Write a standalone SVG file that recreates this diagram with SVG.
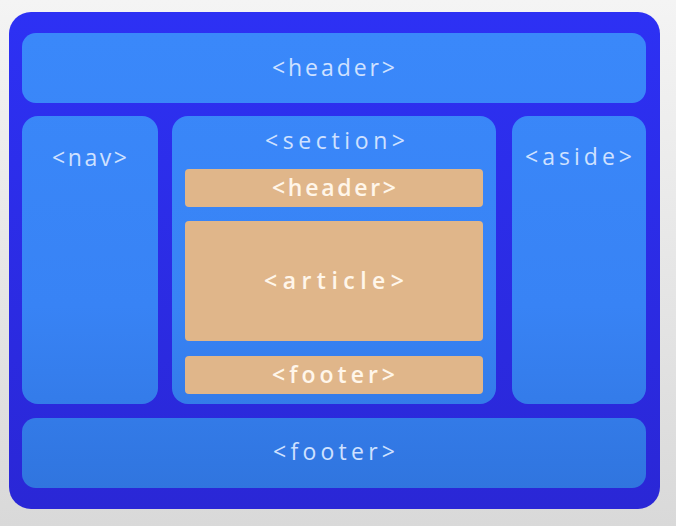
<svg xmlns="http://www.w3.org/2000/svg" width="676" height="526" viewBox="0 0 676 526">
<defs>
<linearGradient id="bg" x1="0" y1="0" x2="0" y2="1"><stop offset="0" stop-color="#f4f4f4"/><stop offset="1" stop-color="#d9d9d9"/></linearGradient>
<linearGradient id="outer" x1="0" y1="0" x2="0" y2="1"><stop offset="0" stop-color="#2d31f4"/><stop offset="1" stop-color="#2a27d6"/></linearGradient>
<linearGradient id="blue" gradientUnits="userSpaceOnUse" x1="0" y1="33" x2="0" y2="488"><stop offset="0" stop-color="#3a88fa"/><stop offset="0.6" stop-color="#3883f5"/><stop offset="1" stop-color="#3075df"/></linearGradient>
</defs>
<style>
.box{fill:url(#blue)}
.tan{fill:#e0b68a}
.lbl{font-family:"Open Sans","DejaVu Sans",sans-serif;font-size:23px;fill:#cfe1ff}
.lbl2{font-family:"Open Sans","DejaVu Sans",sans-serif;font-size:23px;font-weight:600;fill:#fff6ea}
</style>
<rect x="0" y="0" width="676" height="526" fill="url(#bg)"/>
<rect x="9" y="12" width="651" height="497" rx="22" fill="url(#outer)"/>
<g id="header"><rect class="box" x="22" y="33" width="624" height="70" rx="14"/><text class="lbl" x="272" y="76" textLength="123" lengthAdjust="spacing">&lt;header&gt;</text></g>
<g id="nav"><rect class="box" x="22" y="116" width="136" height="288" rx="16"/><text class="lbl" x="52" y="166" textLength="75" lengthAdjust="spacing">&lt;nav&gt;</text></g>
<g id="section"><rect class="box" x="172" y="116" width="324" height="288" rx="16"/><text class="lbl" x="265" y="149" textLength="140" lengthAdjust="spacing">&lt;section&gt;</text></g>
<g id="section-header"><rect class="tan" x="185" y="169" width="298" height="38" rx="4"/><text class="lbl2" x="272" y="196" textLength="124" lengthAdjust="spacing">&lt;header&gt;</text></g>
<g id="article"><rect class="tan" x="185" y="221" width="298" height="120" rx="4"/><text class="lbl2" x="264" y="289" textLength="140" lengthAdjust="spacing">&lt;article&gt;</text></g>
<g id="section-footer"><rect class="tan" x="185" y="356" width="298" height="38" rx="4"/><text class="lbl2" x="272" y="383" textLength="123" lengthAdjust="spacing">&lt;footer&gt;</text></g>
<g id="aside"><rect class="box" x="512" y="116" width="134" height="288" rx="16"/><text class="lbl" x="525" y="165" textLength="107" lengthAdjust="spacing">&lt;aside&gt;</text></g>
<g id="footer"><rect class="box" x="22" y="418" width="624" height="70" rx="14"/><text class="lbl" x="273" y="460" textLength="122" lengthAdjust="spacing">&lt;footer&gt;</text></g>
<g id="connectors"></g>
</svg>
